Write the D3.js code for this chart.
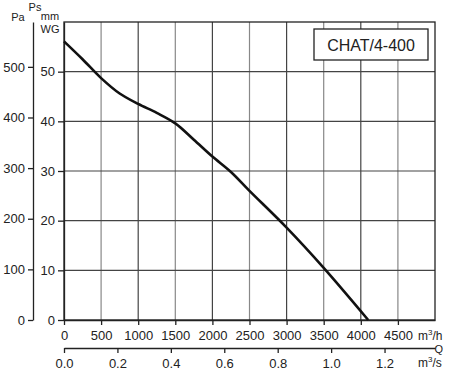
<!DOCTYPE html>
<head>
  <meta charset="utf-8">
  <title>CHAT/4-400</title>
  <style>
    body { margin: 0; background: #fff; }
    text { font-family: "Liberation Sans", Arial, sans-serif; fill: #222; }
    .axis .domain { stroke: #222; stroke-width: 1.3; }
    .axis .tick line { stroke: #222; stroke-width: 1.3; }
  </style>
</head>
<body>
  <svg width="450" height="373"></svg>
  <script src="https://d3js.org/d3.v7.min.js"></script>
  <script>
    // fan curve, static pressure in mm WG against airflow in m3/h
    var flow = [0, 250, 500, 750, 1000, 1250, 1500, 1750, 2000, 2250, 2500, 3000, 3500, 4100];
    var pressure = [56.1, 52.5, 48.7, 45.6, 43.5, 41.7, 39.6, 36.3, 32.9, 29.8, 26.0, 18.6, 10.5, 0];

    var flowTicks = [0, 500, 1000, 1500, 2000, 2500, 3000, 3500, 4000, 4500];
    var flowSecTicks = [0.0, 0.2, 0.4, 0.6, 0.8, 1.0, 1.2];
    var mmTicks = [0, 10, 20, 30, 40, 50];
    var paTicks = [0, 100, 200, 300, 400, 500];
    var title = "CHAT/4-400";

    var svg = d3.select("svg"),
        pLeft = 64, pRight = 435, pTop = 22, pBottom = 320;

    var x = d3.scaleLinear().domain([0, 5000]).range([pLeft, pRight]);
    var xs = d3.scaleLinear().domain([0, 5000 / 3600]).range([pLeft, pRight]);
    var y = d3.scaleLinear().domain([0, 60]).range([pBottom, pTop]);
    var yPa = d3.scaleLinear().domain([0, 60 * 9.81]).range([pBottom, pTop]);

    // grid
    var grid = svg.append("g");
    grid.selectAll("line.v")
      .data(flowTicks.slice(1))
      .enter().append("line")
        .attr("x1", function(d) { return x(d); })
        .attr("x2", function(d) { return x(d); })
        .attr("y1", pTop).attr("y2", pBottom)
        .attr("stroke", function(d) { return d % 1000 == 0 ? "#444" : "#888"; })
        .attr("stroke-width", 1.2);
    grid.selectAll("line.h")
      .data(mmTicks.slice(1))
      .enter().append("line")
        .attr("x1", pLeft).attr("x2", pRight)
        .attr("y1", function(d) { return y(d); })
        .attr("y2", function(d) { return y(d); })
        .attr("stroke", "#444")
        .attr("stroke-width", 1.2);

    svg.append("rect")
      .attr("x", pLeft).attr("y", pTop)
      .attr("width", pRight - pLeft).attr("height", pBottom - pTop)
      .attr("fill", "none").attr("stroke", "#222").attr("stroke-width", 1.3);

    // axes
    svg.append("g")
      .attr("class", "axis")
      .attr("transform", "translate(0," + pBottom + ")")
      .call(d3.axisBottom(x).tickValues(flowTicks).tickFormat(d3.format("d")).tickSize(5).tickSizeOuter(0))
      .selectAll("text").attr("font-size", 13).attr("dy", "0.95em");

    svg.append("g")
      .attr("class", "axis")
      .attr("transform", "translate(0,348)")
      .call(d3.axisBottom(xs).tickValues(flowSecTicks).tickFormat(d3.format(".1f")).tickSize(5).tickSizeOuter(0))
      .selectAll("text").attr("font-size", 13).attr("dy", "0.95em");

    svg.append("g")
      .attr("class", "axis")
      .attr("transform", "translate(" + pLeft + ",0)")
      .call(d3.axisLeft(y).tickValues(mmTicks).tickSize(6).tickSizeOuter(0))
      .selectAll("text").attr("font-size", 13);

    svg.append("g")
      .attr("class", "axis")
      .attr("transform", "translate(33,0)")
      .call(d3.axisLeft(yPa).tickValues(paTicks).tickSize(5).tickSizeOuter(0))
      .selectAll("text").attr("font-size", 13);

    // unit labels
    var labels = [
      {t: "Pa", x: 18, y: 21, a: "middle"},
      {t: "Ps", x: 35, y: 11, a: "middle"},
      {t: "mm", x: 50, y: 20, a: "middle"},
      {t: "WG", x: 50, y: 33, a: "middle"},
      {t: "Q", x: 443, y: 353, a: "end"}
    ];
    svg.selectAll("text.unit")
      .data(labels)
      .enter().append("text")
        .attr("x", function(d) { return d.x; })
        .attr("y", function(d) { return d.y; })
        .attr("text-anchor", function(d) { return d.a; })
        .attr("font-size", 11)
        .text(function(d) { return d.t; });

    var mh = svg.append("text").attr("x", 418).attr("y", 340).attr("font-size", 12);
    mh.append("tspan").text("m");
    mh.append("tspan").attr("font-size", 8).attr("dy", -5).text("3");
    mh.append("tspan").attr("dy", 5).text("/h");

    var ms = svg.append("text").attr("x", 418).attr("y", 367).attr("font-size", 12);
    ms.append("tspan").text("m");
    ms.append("tspan").attr("font-size", 8).attr("dy", -5).text("3");
    ms.append("tspan").attr("dy", 5).text("/s");

    // curve
    var line = d3.line()
      .x(function(d) { return x(d[0]); })
      .y(function(d) { return y(d[1]); })
      .curve(d3.curveCatmullRom.alpha(0.5));

    svg.append("path")
      .datum(flow.map(function(f, i) { return [f, pressure[i]]; }))
      .attr("d", line)
      .attr("fill", "none")
      .attr("stroke", "#111")
      .attr("stroke-width", 2.6);

    // model box
    svg.append("rect")
      .attr("x", 314).attr("y", 29)
      .attr("width", 114).attr("height", 31)
      .attr("fill", "#fff").attr("stroke", "#222").attr("stroke-width", 1.3);
    svg.append("text")
      .attr("x", 371).attr("y", 51)
      .attr("text-anchor", "middle")
      .attr("font-size", 16)
      .text(title);
  </script>
</body>
